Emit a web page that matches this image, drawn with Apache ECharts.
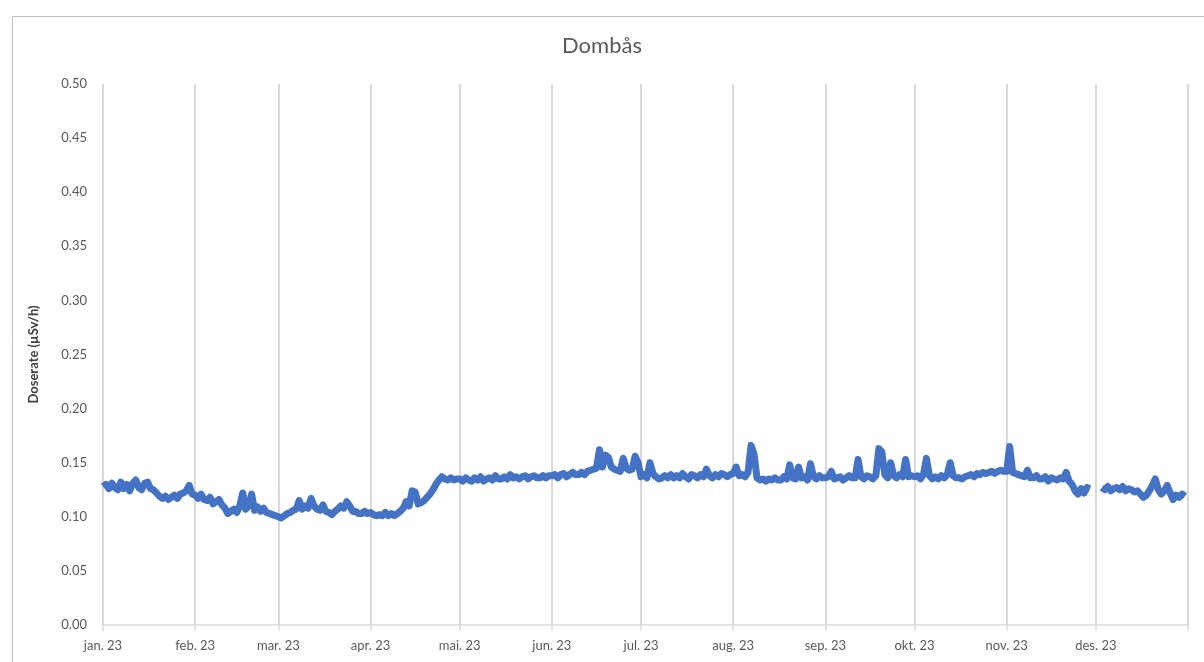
<!DOCTYPE html>
<html>
<head>
<meta charset="utf-8">
<title>Dombås</title>
<script src="https://cdn.jsdelivr.net/npm/echarts@6/dist/echarts.min.js"></script>
<style>
  html, body { margin: 0; padding: 0; background: #fff; }
  #chart { width: 1204px; height: 662px; }
</style>
</head>
<body>
<div id="chart"></div>
<script>
// month labels and days per month (2023)
const monthLabels = ['jan. 23', 'feb. 23', 'mar. 23', 'apr. 23', 'mai. 23', 'jun. 23',
  'jul. 23', 'aug. 23', 'sep. 23', 'okt. 23', 'nov. 23', 'des. 23'];
const monthDays = [31, 28, 31, 30, 31, 30, 31, 31, 30, 31, 30, 31];

// daily dose rate (µSv/h)
const jan = [0.128,0.130,0.126,0.131,0.127,0.125,0.132,0.126,0.130,0.124,0.131,0.134,0.127,0.125,0.131,0.132,0.126,0.125,0.122,0.119,0.117,0.119,0.116,0.118,0.120,0.117,0.121,0.122,0.124,0.129,0.121];
const feb = [0.120,0.117,0.121,0.116,0.115,0.118,0.112,0.114,0.116,0.111,0.108,0.103,0.105,0.107,0.104,0.110,0.122,0.107,0.110,0.121,0.106,0.109,0.105,0.108,0.104,0.103,0.102,0.101];
const mar = [0.100,0.099,0.101,0.103,0.104,0.106,0.107,0.115,0.107,0.110,0.108,0.117,0.110,0.107,0.106,0.111,0.105,0.104,0.102,0.105,0.107,0.110,0.108,0.114,0.110,0.105,0.105,0.103,0.103,0.105,0.103];
const apr = [0.104,0.102,0.101,0.102,0.101,0.104,0.101,0.103,0.101,0.103,0.105,0.108,0.114,0.110,0.124,0.123,0.112,0.113,0.115,0.118,0.121,0.125,0.130,0.134,0.137,0.135,0.134,0.136,0.134,0.135];
const mai = [0.135,0.133,0.136,0.134,0.133,0.136,0.134,0.137,0.133,0.135,0.136,0.134,0.138,0.135,0.135,0.137,0.135,0.139,0.136,0.137,0.135,0.137,0.138,0.135,0.137,0.138,0.136,0.136,0.138,0.136,0.138];
const jun = [0.138,0.139,0.136,0.139,0.140,0.137,0.139,0.141,0.139,0.139,0.141,0.139,0.142,0.143,0.144,0.145,0.162,0.146,0.157,0.155,0.146,0.144,0.143,0.142,0.154,0.145,0.143,0.144,0.156,0.150];
const jul = [0.137,0.139,0.136,0.150,0.140,0.137,0.135,0.136,0.138,0.136,0.139,0.136,0.138,0.136,0.140,0.137,0.135,0.139,0.138,0.136,0.139,0.137,0.144,0.138,0.136,0.139,0.137,0.140,0.139,0.137,0.139];
const aug = [0.140,0.146,0.138,0.139,0.137,0.141,0.166,0.158,0.136,0.134,0.135,0.133,0.135,0.134,0.136,0.134,0.134,0.137,0.135,0.148,0.136,0.135,0.146,0.136,0.137,0.134,0.149,0.137,0.135,0.138,0.136];
const sep = [0.136,0.137,0.142,0.135,0.136,0.137,0.134,0.136,0.138,0.136,0.136,0.153,0.137,0.135,0.138,0.137,0.135,0.138,0.163,0.160,0.139,0.136,0.150,0.138,0.136,0.139,0.137,0.153,0.137,0.138];
const okt = [0.137,0.138,0.135,0.139,0.154,0.138,0.135,0.137,0.135,0.138,0.136,0.139,0.150,0.138,0.136,0.136,0.135,0.137,0.138,0.139,0.137,0.140,0.139,0.141,0.140,0.141,0.142,0.140,0.142,0.143,0.142];
const nov = [0.142,0.165,0.141,0.140,0.139,0.138,0.137,0.143,0.136,0.136,0.138,0.135,0.135,0.137,0.133,0.136,0.135,0.134,0.136,0.135,0.141,0.133,0.130,0.124,0.121,0.126,0.122,0.127,0.126,null];
const des = [null,null,0.127,0.125,0.128,0.124,0.126,0.127,0.125,0.128,0.124,0.126,0.125,0.123,0.124,0.121,0.118,0.120,0.124,0.129,0.135,0.125,0.121,0.124,0.129,0.122,0.116,0.120,0.118,0.121,0.119];

const yTicks = [0, 0.5, 0.05];

// build day categories; month start days get the month label
let days = [];
let monthStart = {};
let idx = 0;
for (let m = 0; m < monthDays.length; m++) {
  monthStart[idx] = monthLabels[m];
  for (let d = 0; d < monthDays[m]; d++) {
    days.push('d' + idx);
    idx++;
  }
}
// end of year (1 Jan 2024), so the last gridline sits on the right edge
monthStart[idx] = '';
days.push('d' + idx);

let values = [].concat(jan, feb, mar, apr, mai, jun, jul, aug, sep, okt, nov, des);
values.push(null);

const isMonth = (i) => monthStart[i] !== undefined;

const chart = echarts.init(document.getElementById('chart'), null, { renderer: 'canvas' });
const font = 'Lato, "Liberation Sans", sans-serif';

const option = {
  animation: false,
  textStyle: { fontFamily: font },
  title: {
    text: 'Dombås',
    left: 'center',
    top: 30,
    textStyle: { fontFamily: font, fontSize: 22, fontWeight: 'normal', color: '#595959' }
  },
  graphic: [{
    type: 'rect',
    left: 10,
    top: 14,
    shape: { width: 1300, height: 800 },
    style: { fill: 'none', stroke: '#bfbfbf', lineWidth: 1 },
    silent: true,
    z: -10
  }],
  grid: { left: 103, right: 16, top: 84, bottom: 37 },
  xAxis: {
    type: 'category',
    data: days,
    boundaryGap: false,
    axisLine: { lineStyle: { color: '#d9d9d9', width: 1.5 } },
    axisTick: {
      alignWithLabel: true,
      interval: (i) => isMonth(i),
      length: 6,
      lineStyle: { color: '#d9d9d9', width: 1.5 }
    },
    axisLabel: {
      interval: (i) => isMonth(i),
      formatter: (v, i) => monthStart[i] || '',
      color: '#595959',
      fontSize: 13,
      margin: 14,
      fontFamily: font
    },
    splitLine: {
      show: true,
      interval: (i) => isMonth(i),
      lineStyle: { color: '#d9d9d9', width: 2 }
    }
  },
  yAxis: {
    type: 'value',
    min: yTicks[0],
    max: yTicks[1],
    interval: yTicks[2],
    name: 'Doserate (µSv/h)',
    nameLocation: 'middle',
    nameGap: 63,
    nameTextStyle: { fontFamily: font, fontSize: 13, fontWeight: 'bold', color: '#404040' },
    axisLine: { show: false },
    axisTick: { show: false },
    splitLine: { show: false },
    axisLabel: {
      formatter: (v) => v.toFixed(2),
      color: '#595959',
      fontSize: 13,
      margin: 16,
      fontFamily: font
    }
  },
  series: [{
    name: 'Dombås',
    type: 'line',
    data: values,
    showSymbol: false,
    connectNulls: false,
    lineStyle: { color: '#4472C4', width: 7, join: 'round' },
    itemStyle: { color: '#4472C4' }
  }]
};

chart.setOption(option);
</script>
</body>
</html>
